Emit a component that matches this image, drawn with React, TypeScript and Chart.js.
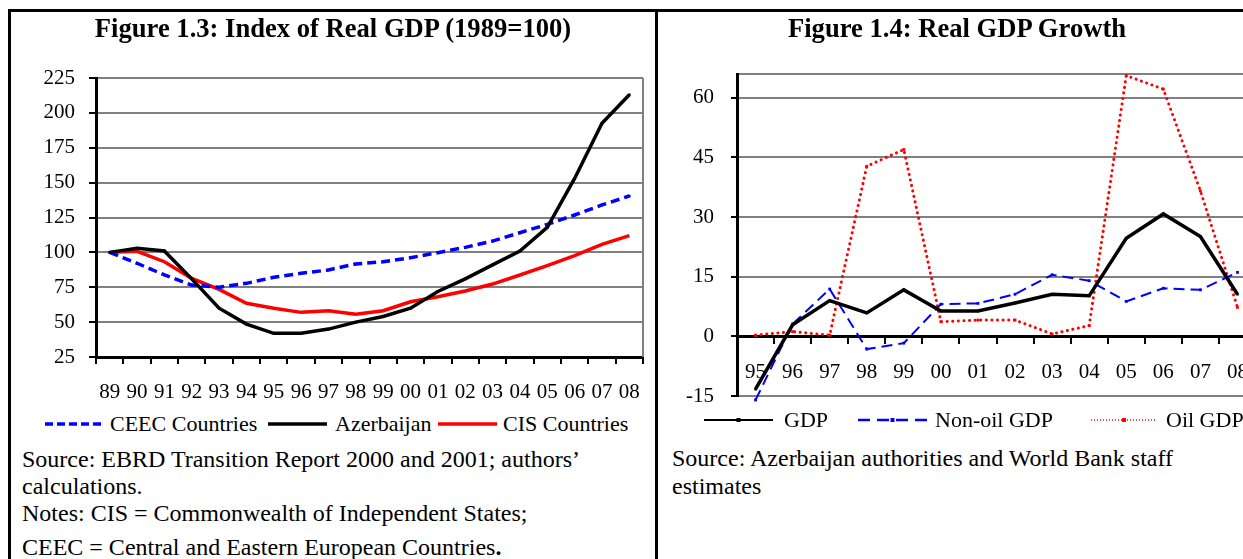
import React, { useEffect, useRef } from "react";
import { Chart, registerables } from "chart.js";
Chart.register(...registerables);

const FONT = "'Liberation Serif', 'Times New Roman', serif";

// Figure 1.3 data
const indexYears = ["89","90","91","92","93","94","95","96","97","98","99","00","01","02","03","04","05","06","07","08"];
const ceecIndex = [100, 92.2, 83.8, 76.6, 75, 77.8, 82.1, 85, 87.4, 91.7, 93.3, 96.2, 99.8, 103.6, 108.1, 114.1, 120.1, 126.8, 134, 140.4];
const azerbaijanIndex = [100, 103, 101, 81, 60, 48.6, 42, 42, 45, 50, 54, 60, 72, 81, 91, 101, 118, 153, 192.5, 213];
const cisIndex = [100, 100.8, 93.3, 81.4, 73.5, 63.5, 59.9, 57, 58.2, 55.6, 58.2, 64.6, 68.2, 72.3, 77.3, 83.8, 90.5, 97.6, 105.8, 112];
const indexMin = 25;
const indexMax = 225;
const indexStep = 25;

// Figure 1.4 data
const growthYears = ["95","96","97","98","99","00","01","02","03","04","05","06","07","08"];
const gdpGrowth = [-13.3, 2.9, 9.0, 5.9, 11.7, 6.4, 6.4, 8.4, 10.6, 10.2, 24.7, 30.8, 25.1, 10.6];
const nonOilGrowth = [-16, 3.1, 11.9, -3.2, -1.7, 8.1, 8.3, 10.6, 15.5, 14.0, 8.8, 12.1, 11.7, 16.1];
const oilGrowth = [0.3, 1.2, 0.3, 42.8, 47, 3.7, 4.1, 4.1, 0.6, 2.7, 65.6, 62.2, 36.6, 7.3];
const growthMin = -15;
const growthMax = 66;
const growthStep = 15;

const GRAY = "#808080";

const framePlugin = {
  id: "frameRight",
  afterDatasetsDraw(chart: any) {
    const { ctx, chartArea } = chart;
    ctx.save();
    ctx.strokeStyle = GRAY;
    ctx.lineWidth = 2;
    ctx.beginPath();
    ctx.moveTo(chartArea.right, chartArea.top);
    ctx.lineTo(chartArea.right, chartArea.bottom);
    ctx.stroke();
    ctx.restore();
  },
};

function IndexChart() {
  const ref = useRef<HTMLCanvasElement>(null);
  useEffect(() => {
    const font = { family: FONT, size: 21 };
    const chart = new Chart(ref.current!, {
      type: "line",
      data: {
        labels: indexYears,
        datasets: [
          { label: "Azerbaijan", data: azerbaijanIndex, borderColor: "#000", backgroundColor: "#000", borderWidth: 3.5, pointStyle: "rect", pointRadius: 1.8, pointBorderWidth: 0, tension: 0 },
          { label: "CEEC Countries", data: ceecIndex, borderColor: "#0000FF", backgroundColor: "#0000FF", borderWidth: 3.5, borderDash: [9, 5], pointStyle: "rect", pointRadius: 1.8, pointBorderWidth: 0, tension: 0 },
          { label: "CIS Countries", data: cisIndex, borderColor: "#FF0000", backgroundColor: "#FF0000", borderWidth: 3.5, pointRadius: 0, tension: 0 },
        ],
      },
      options: {
        responsive: false,
        animation: false,
        layout: { padding: { top: 78, right: 14, bottom: 0, left: 0 } },
        plugins: { legend: { display: false }, tooltip: { enabled: false }, title: { display: false } },
        scales: {
          x: {
            offset: true,
            grid: { offset: true, drawOnChartArea: false, drawTicks: true, tickLength: 7, color: "#000", lineWidth: 2 },
            border: { display: true, color: "#000", width: 3 },
            ticks: { padding: 16, font, color: "#000", maxRotation: 0, autoSkip: false },
            afterFit: (s: any) => { s.height = 53; },
          },
          y: {
            min: indexMin,
            max: indexMax,
            ticks: { stepSize: indexStep, padding: 14, font, color: "#000" },
            grid: {
              color: (c: any) => (c.tick && c.tick.value === indexMin ? "#000" : GRAY),
              lineWidth: 2,
              tickColor: "#000",
              tickLength: 7,
              tickWidth: 2,
            },
            border: { display: true, color: "#000", width: 3 },
            afterFit: (s: any) => { s.width = 96; s.paddingTop = 0; s.paddingBottom = 0; },
          },
        },
      },
      plugins: [framePlugin],
    });
    return () => chart.destroy();
  }, []);
  return <canvas ref={ref} width={657} height={410} style={{ position: "absolute", left: 0, top: 0, width: 657, height: 410 }} />;
}

function GrowthChart() {
  const ref = useRef<HTMLCanvasElement>(null);
  useEffect(() => {
    const font = { family: FONT, size: 21 };
    const chart = new Chart(ref.current!, {
      type: "line",
      data: {
        labels: growthYears,
        datasets: [
          { label: "GDP", data: gdpGrowth, borderColor: "#000", backgroundColor: "#000", borderWidth: 3.5, pointStyle: "rect", pointRadius: 1.8, pointBorderWidth: 0, tension: 0, clip: false },
          { label: "Non-oil GDP", data: nonOilGrowth, borderColor: "#0000FF", backgroundColor: "#0000FF", borderWidth: 2, borderDash: [11, 6], pointStyle: "rect", pointRadius: 2, pointBorderWidth: 0, tension: 0, clip: false },
          { label: "Oil GDP", data: oilGrowth, borderColor: "#FF0000", backgroundColor: "#FF0000", borderWidth: 3, borderDash: [0.1, 5.5], borderCapStyle: "round", pointStyle: "rect", pointRadius: 2, pointBorderWidth: 0, tension: 0, clip: false },
        ],
      },
      options: {
        responsive: false,
        animation: false,
        layout: { padding: { top: 74, right: 24, bottom: 14, left: 0 } },
        plugins: { legend: { display: false }, tooltip: { enabled: false }, title: { display: false } },
        scales: {
          x: {
            offset: true,
            position: { y: 0 } as any,
            grid: { offset: true, drawOnChartArea: false, drawTicks: true, tickLength: 6, color: "#000", lineWidth: 2 },
            border: { display: true, color: "#000", width: 3 },
            ticks: { padding: 18, font, color: "#000", maxRotation: 0, autoSkip: false },
          },
          y: {
            min: growthMin,
            max: growthMax,
            ticks: {
              stepSize: growthStep,
              padding: 17,
              font,
              color: "#000",
              callback: (v: any) => (v === growthMax ? "" : String(v)),
            },
            grid: {
              color: (c: any) => (c.tick && c.tick.value === 0 ? "#000" : GRAY),
              lineWidth: 2,
              tickColor: (c: any) => (c.tick && c.tick.value === growthMax ? "rgba(0,0,0,0)" : "#000"),
              tickLength: 6,
              tickWidth: 2,
            },
            border: { display: true, color: "#000", width: 3 },
            afterFit: (s: any) => { s.width = 77; s.paddingTop = 0; s.paddingBottom = 0; },
          },
        },
      },
    });
    return () => chart.destroy();
  }, []);
  return <canvas ref={ref} width={620} height={410} style={{ position: "absolute", left: 660, top: 0, width: 620, height: 410 }} />;
}

function Txt(props: { x: number; y: number; size?: number; bold?: boolean; center?: boolean; children: any }) {
  const size = props.size || 22;
  const style: any = {
    position: "absolute",
    top: props.y - size / 2,
    left: props.x,
    fontFamily: FONT,
    fontSize: size,
    lineHeight: size + "px",
    fontWeight: props.bold ? "bold" : "normal",
    whiteSpace: "nowrap",
    color: "#000",
  };
  if (props.center) style.transform = "translateX(-50%)";
  return <div style={style}>{props.children}</div>;
}

function LegendLine(props: { x1: number; x2: number; y: number; color: string; width: number; dash?: string; cap?: string; marker?: boolean }) {
  const mid = (props.x1 + props.x2) / 2;
  return (
    <svg style={{ position: "absolute", left: 0, top: 0, overflow: "visible" }} width={1} height={1}>
      <line x1={props.x1} y1={props.y} x2={props.x2} y2={props.y} stroke={props.color} strokeWidth={props.width} strokeDasharray={props.dash} strokeLinecap={(props.cap as any) || "butt"} />
      {props.marker ? <rect x={mid - 2} y={props.y - 2} width={4} height={4} fill={props.color} /> : null}
    </svg>
  );
}

export default function App() {
  return (
    <div style={{ position: "absolute", left: 0, top: 0, width: 1243, height: 559, overflow: "hidden", background: "#fff" }}>
      {/* frame lines */}
      <div style={{ position: "absolute", left: 8, top: 9, width: 1300, height: 3, background: "#000" }} />
      <div style={{ position: "absolute", left: 8, top: 9, width: 3, height: 600, background: "#000" }} />
      <div style={{ position: "absolute", left: 655, top: 9, width: 3, height: 600, background: "#000" }} />

      <IndexChart />
      <GrowthChart />

      <Txt x={333} y={28} size={26.6} bold center>Figure 1.3: Index of Real GDP (1989=100)</Txt>
      <Txt x={957} y={28} size={26.6} bold center>Figure 1.4: Real GDP Growth</Txt>

      {/* Left legend */}
      <LegendLine x1={45} x2={103} y={424} color="#0000FF" width={3.5} dash="8 4" />
      <Txt x={110} y={424}>CEEC Countries</Txt>
      <LegendLine x1={268} x2={327} y={424} color="#000" width={3.5} />
      <Txt x={335} y={424}>Azerbaijan</Txt>
      <LegendLine x1={438} x2={497} y={424} color="#FF0000" width={3.5} />
      <Txt x={503} y={424}>CIS Countries</Txt>

      <Txt x={22} y={459} size={24}>Source: EBRD Transition Report 2000 and 2001; authors’</Txt>
      <Txt x={22} y={486} size={24}>calculations.</Txt>
      <Txt x={22} y={513} size={24}>Notes: CIS = Commonwealth of Independent States;</Txt>
      <Txt x={22} y={547} size={24}>CEEC = Central and Eastern European Countries<b>.</b></Txt>

      {/* Right legend */}
      <LegendLine x1={704} x2={773} y={420} color="#000" width={2} marker />
      <Txt x={784} y={420}>GDP</Txt>
      <LegendLine x1={858} x2={927} y={420} color="#0000FF" width={2.5} dash="12 7" marker />
      <Txt x={935} y={420}>Non-oil GDP</Txt>
      <LegendLine x1={1091} x2={1157} y={420} color="#FF0000" width={1.5} dash="1 2" marker />
      <Txt x={1166} y={420}>Oil GDP</Txt>

      <Txt x={672} y={458} size={24}>Source: Azerbaijan authorities and World Bank staff</Txt>
      <Txt x={672} y={486} size={24}>estimates</Txt>
    </div>
  );
}
